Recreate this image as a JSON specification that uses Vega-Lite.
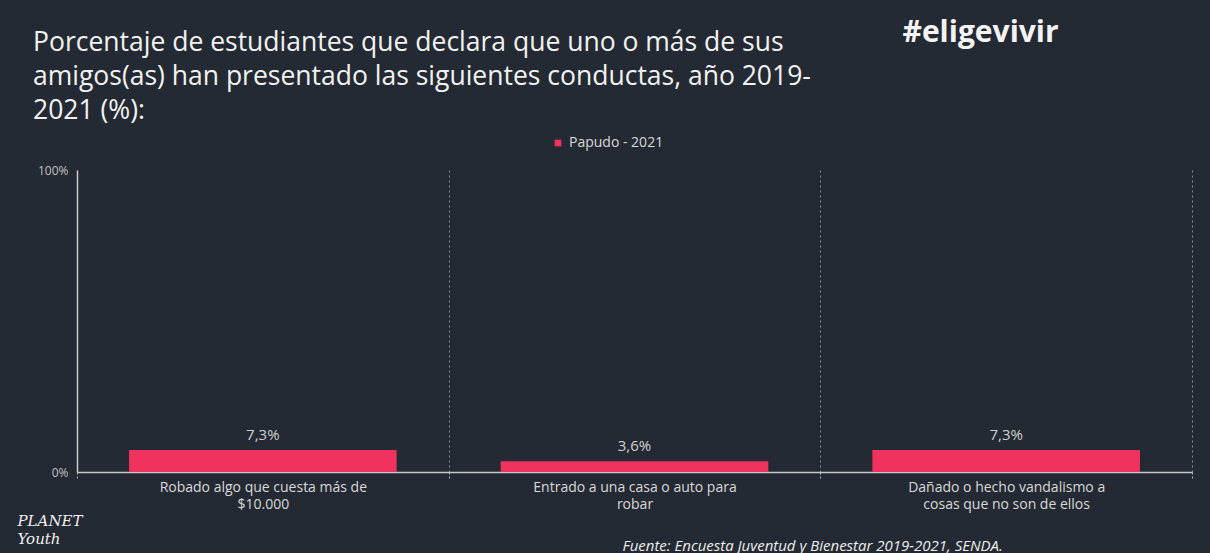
{
  "$schema": "https://vega.github.io/schema/vega-lite/v6.json",
  "width": 1115,
  "height": 302,
  "autosize": {"type": "none"},
  "padding": {"left": 77, "top": 170, "right": 18, "bottom": 81},
  "background": "#242a33",
  "config": {
    "locale": {"number": {"decimal": ",", "thousands": ".", "grouping": [3], "currency": ["$", ""]}},
    "view": {"stroke": null},
    "font": "Open Sans"
  },
  "title": {
    "text": ["Porcentaje de estudiantes que declara que uno o más de sus", "amigos(as) han presentado las siguientes conductas, año 2019-", "2021 (%):"],
    "anchor": "start",
    "frame": "group",
    "dx": -44,
    "offset": 0,
    "dy": 107,
    "font": "Open Sans",
    "fontSize": 26.5,
    "fontWeight": "normal",
    "lineHeight": 34,
    "color": "#f2f2f2"
  },
  "data": {
    "values": [
      {"conducta": "Robado algo que cuesta más de $10.000", "serie": "Papudo - 2021", "valor": 0.073},
      {"conducta": "Entrado a una casa o auto para robar", "serie": "Papudo - 2021", "valor": 0.036},
      {"conducta": "Dañado o hecho vandalismo a cosas que no son de ellos", "serie": "Papudo - 2021", "valor": 0.073}
    ]
  },
  "encoding": {
    "x": {
      "field": "conducta",
      "type": "nominal",
      "sort": null,
      "scale": {"paddingInner": 0, "paddingOuter": 0},
      "axis": {
        "labelAngle": 0,
        "labelExpr": "datum.label == 'Robado algo que cuesta más de $10.000' ? ['Robado algo que cuesta más de', '$10.000'] : datum.label == 'Entrado a una casa o auto para robar' ? ['Entrado a una casa o auto para', 'robar'] : datum.label == 'Dañado o hecho vandalismo a cosas que no son de ellos' ? ['Dañado o hecho vandalismo a', 'cosas que no son de ellos'] : ''",
        "labelColor": "#d9d9d9",
        "labelFontSize": 14,
        "labelLineHeight": 17,
        "labelPadding": 2,
        "labelLimit": 400,
        "tickBand": "extent",
        "grid": true,
        "gridDash": [2, 3],
        "gridColor": "#aeb8c8",
        "gridOpacity": 0.7,
        "ticks": true,
        "tickSize": 6,
        "tickColor": "#aeb8c8",
        "tickDash": [2, 2],
        "domainColor": "#c8c8c8",
        "domainWidth": 1.5,
        "title": "Fuente: Encuesta Juventud y Bienestar 2019-2021, SENDA.",
        "titleFont": "Open Sans",
        "titleFontStyle": "italic",
        "titleFontWeight": "normal",
        "titleFontSize": 15,
        "titleColor": "#ececec",
        "titleAlign": "left",
        "titleBaseline": "middle",
        "titleAnchor": "start",
        "titleX": 545,
        "titleY": 73
      }
    }
  },
  "layer": [
    {
      "mark": {"type": "bar", "color": "#f0325f", "width": {"band": 0.72}},
      "encoding": {
        "y": {
          "field": "valor",
          "type": "quantitative",
          "scale": {"domain": [0, 1]},
          "axis": {
            "values": [0, 1],
            "format": ".0%",
            "grid": false,
            "ticks": false,
            "labelColor": "#c0c0c0",
            "labelFontSize": 12,
            "labelPadding": 9,
            "domainColor": "#c8c8c8",
            "domainWidth": 1.5,
            "title": ["PLANET", "Youth"],
            "titleFont": "DejaVu Serif",
            "titleFontStyle": "italic",
            "titleFontWeight": "normal",
            "titleFontSize": 15,
            "titleLineHeight": 18,
            "titleColor": "#f0f0f0",
            "titleAngle": 0,
            "titleAlign": "left",
            "titleBaseline": "middle",
            "titleX": -60,
            "titleY": 350
          }
        },
        "color": {
          "field": "serie",
          "type": "nominal",
          "scale": {"range": ["#f0325f"]},
          "legend": {
            "orient": "none",
            "legendX": 474,
            "legendY": -34,
            "direction": "horizontal",
            "title": null,
            "symbolType": "square",
            "symbolSize": 45,
            "labelColor": "#d9d9d9",
            "labelFontSize": 14,
            "labelFont": "Open Sans"
          }
        }
      }
    },
    {
      "mark": {"type": "text", "baseline": "bottom", "dy": -7, "fontSize": 15, "color": "#d0d0d0", "font": "Open Sans"},
      "encoding": {
        "y": {
          "field": "valor",
          "type": "quantitative",
          "axis": {
            "orient": "right",
            "labels": false,
            "ticks": false,
            "domain": false,
            "grid": false,
            "title": "#eligevivir",
            "titleFont": "Open Sans",
            "titleFontWeight": "bold",
            "titleFontSize": 30,
            "titleColor": "#f4f4f4",
            "titleAngle": 0,
            "titleAlign": "left",
            "titleBaseline": "middle",
            "titleX": -290,
            "titleY": -138
          }
        },
        "text": {"field": "valor", "type": "quantitative", "format": ".1%"}
      }
    }
  ],
  "resolve": {"axis": {"y": "independent"}}
}
